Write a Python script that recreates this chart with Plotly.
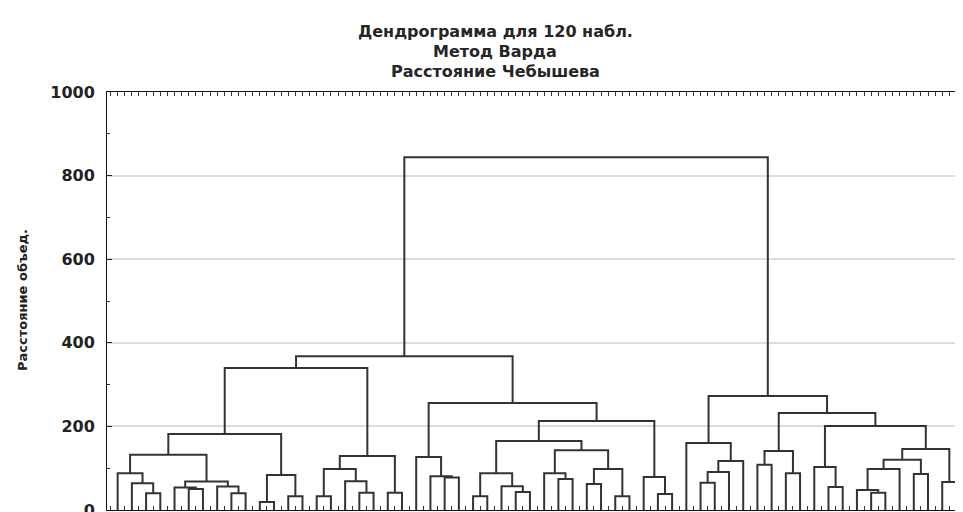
import plotly.graph_objects as go

# ---- data ----
n_obs = 120          # observations (one axis tick each)
n_leaves = 60        # visible leaf branches (each holds 2 observations)

# scipy-style linkage: ids 0..59 are leaves, 60.. are merges in order
merge_left = [2, 1, 0, 5, 4, 8, 7, 64, 62, 10, 12, 69, 68, 14, 17, 16, 73, 19, 76, 72,
              23, 22, 21, 25, 28, 27, 83, 31, 30, 33, 35, 89, 88, 86, 38, 37, 93, 82, 79,
              41, 99, 100, 40, 45, 47, 103, 50, 49, 53, 52, 109, 56, 110, 58, 112, 107, 105, 102, 98]
merge_right = [3, 60, 61, 6, 63, 9, 65, 66, 67, 11, 13, 70, 71, 15, 18, 74, 75, 20, 77, 78,
               24, 80, 81, 26, 29, 84, 85, 32, 87, 34, 36, 90, 91, 92, 39, 94, 95, 96, 97,
               42, 43, 44, 101, 46, 48, 104, 51, 106, 54, 108, 55, 57, 111, 59, 113, 114, 115, 116, 117]
merge_height = [40, 64, 88, 50, 54, 40, 56, 68, 132, 19, 33, 84, 182, 33, 41, 69, 98, 41, 129, 340,
                78, 81, 127, 33, 43, 57, 88, 74, 88, 62, 33, 98, 143, 165, 38, 79, 213, 256, 368,
                65, 91, 117, 160, 108, 88, 141, 55, 103, 41, 48, 98, 86, 120, 67, 146, 201, 232, 273, 844]

title_lines = ["Дендрограмма для 120 набл.", "Метод Варда", "Расстояние Чебышева"]
y_title = "Расстояние объед."
y_ticks = [0, 200, 400, 600, 800, 1000]

# ---- dendrogram layout ----
per_leaf = n_obs / n_leaves
node_x = [per_leaf * k + per_leaf - 0.5 for k in range(n_leaves)]
node_h = [0.0] * n_leaves
xs, ys = [], []
for a, b, h in zip(merge_left, merge_right, merge_height):
    xa, xb = node_x[a], node_x[b]
    xs += [xa, xa, xb, xb, None]
    ys += [node_h[a], h, h, node_h[b], None]
    node_x.append((xa + xb) / 2)
    node_h.append(h)

fig = go.Figure()
fig.add_trace(go.Scatter(x=xs, y=ys, mode="lines",
                         line=dict(color="#333333", width=2),
                         hoverinfo="skip", showlegend=False))

# page body has an 8px default margin; figure sized to compensate
L, T, PW, PH = 99, 84, 853, 418
fig.update_layout(
    width=955, height=504,
    margin=dict(l=L, r=955 - L - PW, t=T, b=504 - T - PH, autoexpand=False),
    paper_bgcolor="white", plot_bgcolor="white",
    font=dict(family="DejaVu Sans, Liberation Sans, Arial", color="#222"),
)
fig.update_xaxes(
    range=[0, n_obs], showgrid=False, zeroline=False, automargin=False,
    showline=True, linecolor="#111", linewidth=1, mirror="ticks",
    tickmode="array", tickvals=[i + 0.5 for i in range(n_obs)],
    ticks="inside", ticklen=4, tickcolor="#333", showticklabels=False,
)
fig.update_yaxes(
    range=[0, 1000], tickmode="array", tickvals=y_ticks, automargin=False,
    ticks="inside", ticklen=5, tickcolor="#222",
    showline=True, linecolor="#111", linewidth=1, mirror="ticks",
    showgrid=True, gridcolor="#dcdcdc", gridwidth=2, zeroline=False,
    tickfont=dict(size=16, color="#222", weight="bold"),
    ticklabelstandoff=8, ticklabeloverflow="allow",
    minor=dict(dtick=100, ticks="inside", ticklen=3, tickcolor="#333", showgrid=False),
)

title_y = [31, 52, 72]
for txt, py in zip(title_lines, title_y):
    fig.add_annotation(text=txt, xref="paper", yref="paper",
                       x=(495 - 107) / PW, y=(510 - py) / PH,
                       xanchor="center", yanchor="middle", showarrow=False,
                       font=dict(size=16, color="#262626", weight="bold"))

fig.add_annotation(text=y_title, xref="paper", yref="paper",
                   x=(22 - 107) / PW, y=(510 - 300) / PH,
                   xanchor="center", yanchor="middle", textangle=-90,
                   showarrow=False, font=dict(size=13, color="#222", weight="bold"))

fig.write_html("out.html")
